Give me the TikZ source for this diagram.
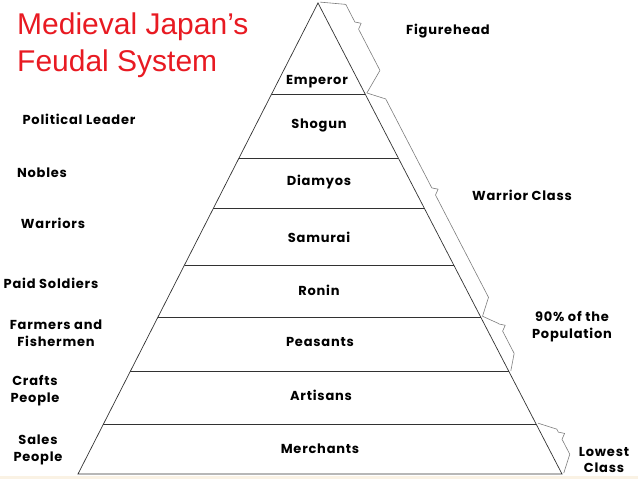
\documentclass[tikz,border=0pt]{standalone}
\usepackage{fontspec}
\setmainfont{Poppins}[LetterSpace=6]
\newfontfamily\titlefont{Liberation Sans}
\usepackage{tikz}
\usetikzlibrary{calc}
\definecolor{titlered}{RGB}{232,26,34}
\definecolor{edgegray}{RGB}{50,50,50}
\definecolor{bracegray}{RGB}{125,125,125}
\definecolor{stripbeige}{RGB}{250,242,228}
\tikzset{
  tier label/.style={
    font=\fontsize{13}{17}\selectfont\bfseries,
    inner sep=0pt,
    align=center
  },
  title label/.style={
    font=\titlefont\fontsize{30}{37}\selectfont,
    text=titlered,
    inner sep=0pt,
    align=left
  },
  pyramid line/.style={
    draw=edgegray,
    line width=0.7pt
  },
  brace line/.style={
    draw=bracegray,
    line width=0.6pt,
    line join=round
  }
}
% brace along the right side of the pyramid, from #2 down to #3, tip at fraction #4
\newcommand{\sidebrace}[4][16pt]{%
  \draw[brace line] ($(#2)!2pt!90:(#3)$)
    -- ($(#2)!14pt!(#3)!#1!90:(#3)$)
    -- ($(#2)!#4!(#3)!-4pt!(#3)!#1!90:(#3)$)
    -- ($(#2)!#4!(#3)!#1+5pt!90:(#3)$)
    -- ($(#2)!#4!(#3)!4pt!(#3)!#1!90:(#3)$)
    -- ($(#3)!14pt!(#2)!#1!-90:(#2)$)
    -- ($(#3)!2pt!-90:(#2)$);}

\begin{document}
\begin{tikzpicture}[x=1pt, y=1pt]
  \useasboundingbox (0,0) rectangle (638,479);
  \fill[stripbeige] (0,0) rectangle (638,3);

  % Title
  \node[title label, anchor=north west] (title) at (17,466) {Medieval Japan’s\\Feudal System};

  % Pyramid outline
  \coordinate (apex) at (318,476);
  \coordinate (bl) at (78,5);
  \coordinate (br) at (562,5);
  \draw[pyramid line] (bl) -- (apex) -- (br) -- cycle;

  % Tier lines
  \foreach \n/\t in {1/0.193, 2/0.329, 3/0.437, 4/0.556, 5/0.667, 6/0.783, 7/0.894} {
    \coordinate (l\n) at ($(apex)!\t!(bl)$);
    \coordinate (r\n) at ($(apex)!\t!(br)$);
    \draw[pyramid line] (l\n) -- (r\n);
  }

  % Tiers
  \node[tier label] (emperor) at (317,397) {Emperor};
  \node[tier label] (shogun) at (319,354) {Shogun};
  \node[tier label] (diamyos) at (319,297) {Diamyos};
  \node[tier label] (samurai) at (319,242) {Samurai};
  \node[tier label] (ronin) at (319,189) {Ronin};
  \node[tier label] (peasants) at (320,137) {Peasants};
  \node[tier label] (artisans) at (321,84) {Artisans};
  \node[tier label] (merchants) at (320,30) {Merchants};

  % Roles on the left
  \node[tier label] (leader) at (79,360) {Political Leader};
  \node[tier label] (nobles) at (42,306) {Nobles};
  \node[tier label] (warriors) at (53,256) {Warriors};
  \node[tier label] (soldiers) at (51,196) {Paid Soldiers};
  \node[tier label] (farmers) at (56,146) {Farmers and\\Fishermen};
  \node[tier label] (crafts) at (35,88) {Crafts\\People};
  \node[tier label] (sales) at (38,29) {Sales\\People};

  % Groups on the right
  \node[tier label] (figurehead) at (448,448) {Figurehead};
  \node[tier label] (warclass) at (522,284) {Warrior Class};
  \node[tier label] (population) at (572,152) {90\% of the\\Population};
  \node[tier label, font=\fontsize{13}{16}\selectfont\bfseries] (lowest) at (604,19) {Lowest\\Class};

  \sidebrace[24pt]{apex}{r1}{0.37}
  \sidebrace{r1}{r5}{0.47}
  \sidebrace[13pt]{r5}{r6}{0.3}
  \sidebrace{r7}{br}{0.38}
\end{tikzpicture}
\end{document}
